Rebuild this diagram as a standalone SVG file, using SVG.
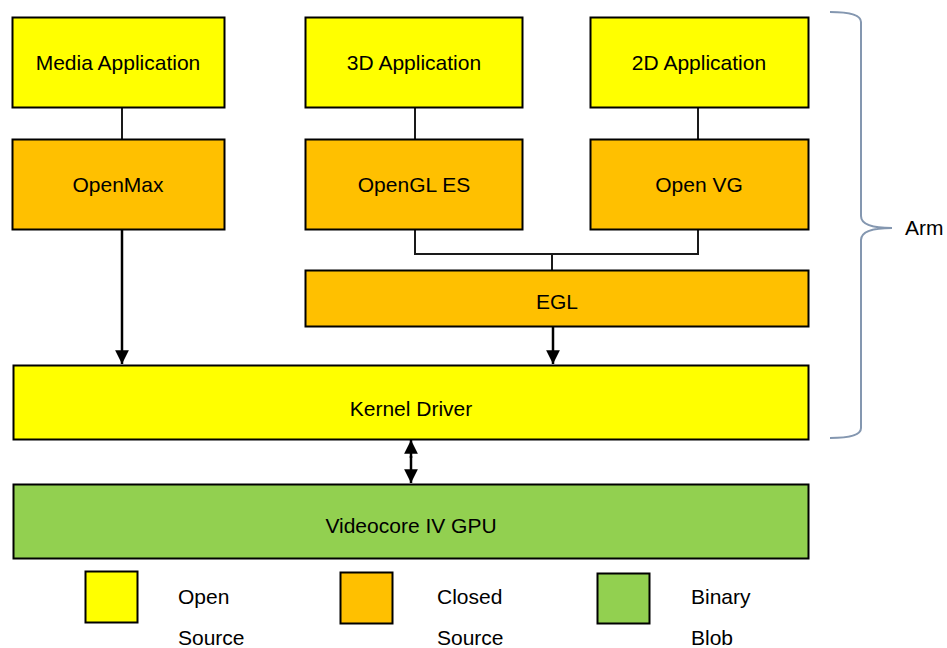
<svg xmlns="http://www.w3.org/2000/svg" width="947" height="648" viewBox="0 0 947 648">
<defs>
<style>
.box{stroke:#000;stroke-width:2}
.y{fill:#FFFF00}
.o{fill:#FFC000}
.g{fill:#92D050}
text{font-family:"Liberation Sans",Arial,sans-serif;font-size:21px;fill:#000}
.c{text-anchor:middle}
.ln{stroke:#1a1a1a;stroke-width:2;fill:none}
.ar{stroke:#000;stroke-width:2.5;fill:none}
</style>
<marker id="ah" viewBox="0 0 10 10" refX="10" refY="5" markerWidth="5.5" markerHeight="5.5" orient="auto" markerUnits="strokeWidth">
<path d="M0,0 L10,5 L0,10 z" fill="#000"/>
</marker>
</defs>
<rect width="947" height="648" fill="#fff"/>
<g id="connectors">
<line class="ln" x1="122" y1="108" x2="122" y2="139"/>
<line class="ln" x1="415" y1="108" x2="415" y2="139"/>
<line class="ln" x1="698" y1="108" x2="698" y2="139"/>
<polyline class="ln" points="415,230 415,254 698,254 698,230"/>
<line class="ln" x1="552" y1="254" x2="552" y2="270"/>
<line class="ar" x1="122" y1="230" x2="122" y2="364" marker-end="url(#ah)"/>
<line class="ar" x1="553" y1="327" x2="553" y2="364" marker-end="url(#ah)"/>
<line class="ar" x1="411" y1="458" x2="411" y2="440" marker-end="url(#ah)"/>
<line class="ar" x1="411" y1="456" x2="411" y2="483" marker-end="url(#ah)"/>
</g>
<g id="media-app"><rect class="box y" x="12.5" y="17.5" width="212" height="90"/><text class="c" x="118" y="70">Media Application</text></g>
<g id="openmax"><rect class="box o" x="12.5" y="139.5" width="212" height="90"/><text class="c" x="118" y="192">OpenMax</text></g>
<g id="app-3d"><rect class="box y" x="305.5" y="17.5" width="217" height="90"/><text class="c" x="414" y="70">3D Application</text></g>
<g id="opengl-es"><rect class="box o" x="305.5" y="139.5" width="217" height="90"/><text class="c" x="414" y="192">OpenGL ES</text></g>
<g id="app-2d"><rect class="box y" x="590.5" y="17.5" width="218" height="90"/><text class="c" x="699" y="70">2D Application</text></g>
<g id="openvg"><rect class="box o" x="590.5" y="139.5" width="218" height="90"/><text class="c" x="699" y="192">Open VG</text></g>
<g id="egl"><rect class="box o" x="305.5" y="270.5" width="503" height="56"/><text class="c" x="557" y="309">EGL</text></g>
<g id="kernel-driver"><rect class="box y" x="13.5" y="365.5" width="795" height="74"/><text class="c" x="411" y="416">Kernel Driver</text></g>
<g id="videocore"><rect class="box g" x="13.5" y="484.5" width="795" height="74"/><text class="c" x="411" y="533">Videocore IV GPU</text></g>
<g id="arm-brace">
<path d="M830,12 Q861,12 861,22 L861,216 Q861,228 892,228 Q861,228 861,240 L861,428 Q861,438 830,438" fill="none" stroke="#8497B0" stroke-width="2"/>
<text x="905" y="235">Arm</text>
</g>
<g id="legend-open"><rect class="box y" x="85.5" y="571.5" width="52" height="51"/><text x="178" y="604">Open</text><text x="178" y="645">Source</text></g>
<g id="legend-closed"><rect class="box o" x="340.5" y="572.5" width="52" height="51"/><text x="437" y="604">Closed</text><text x="437" y="645">Source</text></g>
<g id="legend-binary"><rect class="box g" x="597.5" y="573.5" width="52" height="50"/><text x="691" y="604">Binary</text><text x="691" y="645">Blob</text></g>
</svg>
